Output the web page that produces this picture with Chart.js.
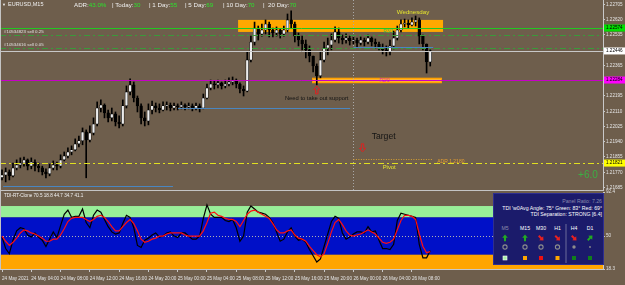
<!DOCTYPE html>
<html>
<head>
<meta charset="utf-8">
<script src="https://cdn.jsdelivr.net/npm/chart.js@4.4.1/dist/chart.umd.min.js"></script>
<style>
html, body { margin: 0; padding: 0; background: #6e5e4c; overflow: hidden; }
body { width: 625px; height: 285px; position: relative; font-family: "Liberation Sans", Arial, sans-serif; }
canvas { position: absolute; left: 0; }
#main { top: 0; }
#tdi { top: 186px; }
.txt { position: absolute; white-space: pre; color: #f0f0f0; line-height: 1; }
.g { color: #2ee02e; }
.line { position: absolute; background: #c4c4c4; }
#panel { position: absolute; left: 493px; top: 193px; }
</style>
</head>
<body>
<canvas id="main" width="625" height="190"></canvas>
<canvas id="tdi" width="625" height="99"></canvas>

<div class="line" style="left:0;top:0;width:1px;height:269px"></div>
<div class="line" style="left:0;top:190px;width:604px;height:1px"></div>

<div class="txt" style="left:2px;top:3px;font-size:4px">▼</div>
<div class="txt" style="left:8px;top:2px;font-size:5.5px">EURUSD,M15</div>
<div class="txt" style="left:74px;top:2px;font-size:6.2px">ADR:<span class="g">43.0%</span></div>
<div class="txt" style="left:112px;top:2px;font-size:6.2px">| Today:<span class="g">30</span></div>
<div class="txt" style="left:149px;top:2px;font-size:6.2px">| 1 Day:<span class="g">55</span></div>
<div class="txt" style="left:185px;top:2px;font-size:6.2px">| 5 Day:<span class="g">69</span></div>
<div class="txt" style="left:223px;top:2px;font-size:6.2px">| 10 Day:<span class="g">70</span></div>
<div class="txt" style="left:263px;top:2px;font-size:6.2px">|  20 Day:<span class="g">70</span></div>
<div class="txt" style="left:4px;top:194px;font-size:4.6px">TDI-RT-Clone 70.5 18.8 44.7 34.7 41.1</div>

<svg id="panel" width="111" height="72" font-family="Liberation Sans, Arial, sans-serif" font-size="5.2">
  <rect x="0.5" y="0.5" width="110" height="71" fill="#1b1b6b" stroke="#2e2e90"/>
  <text x="109" y="10" text-anchor="end" fill="#8a8aaa">Panel Ratio: 7.26</text>
  <text x="109" y="16.5" text-anchor="end" fill="#ffffff">TDI 'w0Avg Angle: 75°  Green: 83°  Red: 69°</text>
  <text x="109" y="23" text-anchor="end" fill="#ffffff">TDI Separation: STRONG [6.4]</text>
  <text x="12" y="37" text-anchor="middle" fill="#8a8aaa">M5</text>
  <text x="32" y="37" text-anchor="middle" fill="#ffffff">M15</text>
  <text x="48" y="37" text-anchor="middle" fill="#ffffff">M30</text>
  <text x="64.5" y="37" text-anchor="middle" fill="#ffffff">H1</text>
  <text x="81" y="37" text-anchor="middle" fill="#ffffff">H4</text>
  <text x="97" y="37" text-anchor="middle" fill="#ffffff">D1</text>
  <line x1="73" y1="31" x2="73" y2="70" stroke="#8080a8" stroke-width="0.8"/>
  <g transform="translate(12,45)"><polygon points="0,-3.5 -2.8,-0.3 -1,-0.3 -1,3.2 1,3.2 1,-0.3 2.8,-0.3" fill="#22aa22"/></g>
  <g transform="translate(32,45)"><polygon points="0,-3.5 -2.8,-0.3 -1,-0.3 -1,3.2 1,3.2 1,-0.3 2.8,-0.3" fill="#22aa22"/></g>
  <g transform="translate(48,45) rotate(135)"><polygon points="0,-3.5 -2.8,-0.3 -1,-0.3 -1,3.2 1,3.2 1,-0.3 2.8,-0.3" fill="#e82020"/></g>
  <g transform="translate(64.5,45) rotate(135)"><polygon points="0,-3.5 -2.8,-0.3 -1,-0.3 -1,3.2 1,3.2 1,-0.3 2.8,-0.3" fill="#e82020"/></g>
  <g transform="translate(81,45) rotate(135)"><polygon points="0,-3.5 -2.8,-0.3 -1,-0.3 -1,3.2 1,3.2 1,-0.3 2.8,-0.3" fill="#e82020"/></g>
  <g transform="translate(97,45) rotate(45)"><polygon points="0,-3.5 -2.8,-0.3 -1,-0.3 -1,3.2 1,3.2 1,-0.3 2.8,-0.3" fill="#22aa22"/></g>
  <circle cx="12" cy="54" r="2.1" fill="none" stroke="#8c8c8c" stroke-width="1.1"/>
  <circle cx="32" cy="54" r="2.1" fill="none" stroke="#8c8c8c" stroke-width="1.1"/>
  <circle cx="48" cy="54" r="2.1" fill="none" stroke="#8c8c8c" stroke-width="1.1"/>
  <circle cx="64.5" cy="54" r="2.1" fill="none" stroke="#8c8c8c" stroke-width="1.1"/>
  <circle cx="81" cy="54" r="1.7" fill="#8c8c8c"/>
  <circle cx="97" cy="54" r="0.9" fill="#8c8c8c"/>
  <rect x="10" y="63" width="4" height="4" fill="#a8f0a8" stroke="#ffffff" stroke-width="0.6"/>
  <rect x="30" y="63" width="4" height="4" fill="#ffa500"/>
  <rect x="46" y="63" width="4" height="4" fill="#ee1010"/>
  <rect x="62.5" y="63" width="4" height="4" fill="#ffa500"/>
  <rect x="79" y="63" width="4" height="4" fill="#10801a"/>
  <rect x="95" y="63" width="4" height="4" fill="#10801a"/>
</svg>

<script>
// EURUSD M15 chart, resampled to 30 min bars (bar index 0 = 24 May 00:00)
const firstOpen = 1.21740;
const closes = [
    1.21755,1.21772,1.21750,1.21794,1.21810,1.21821,1.21839,1.21804,1.21827,1.21804,
    1.21794,1.21772,1.21761,1.21794,1.21810,1.21804,1.21839,1.21861,1.21883,1.21895,
    1.21928,1.21945,1.21995,1.21950,1.21989,1.22039,1.22128,1.22145,1.22101,1.22073,
    1.22095,1.22050,1.22039,1.22140,1.22218,1.22257,1.22184,1.22140,1.22073,1.22056,
    1.22117,1.22140,1.22128,1.22117,1.22140,1.22145,1.22128,1.22140,1.22134,1.22145,
    1.22134,1.22140,1.22128,1.22140,1.22128,1.22184,1.22240,1.22262,1.22257,1.22268,
    1.22251,1.22262,1.22273,1.22284,1.22262,1.22234,1.22223,1.22396,1.22496,1.22574,
    1.22541,1.22563,1.22596,1.22563,1.22546,1.22563,1.22541,1.22563,1.22619,1.22596,
    1.22529,1.22507,1.22485,1.22452,1.22418,1.22362,1.22307,1.22396,1.22463,1.22479,
    1.22507,1.22552,1.22518,1.22507,1.22518,1.22502,1.22507,1.22490,1.22507,1.22496,
    1.22518,1.22496,1.22485,1.22468,1.22452,1.22440,1.22474,1.22518,1.22563,1.22596,
    1.22602,1.22591,1.22607,1.22619,1.22529,1.22485,1.22385,1.22446
];
const highs = [
    1.21783,1.21794,1.21783,1.21821,1.21839,1.21850,1.21855,1.21844,1.21850,1.21839,
    1.21821,1.21804,1.21789,1.21815,1.21833,1.21827,1.21867,1.21883,1.21906,1.21917,
    1.21956,1.21972,1.22017,1.22006,1.22028,1.22073,1.22162,1.22173,1.22151,1.22117,
    1.22128,1.22106,1.22084,1.22173,1.22251,1.22290,1.22273,1.22195,1.22151,1.22106,
    1.22151,1.22167,1.22156,1.22151,1.22162,1.22162,1.22156,1.22156,1.22151,1.22162,
    1.22151,1.22156,1.22151,1.22156,1.22151,1.22206,1.22262,1.22284,1.22279,1.22284,
    1.22273,1.22284,1.22296,1.22301,1.22290,1.22268,1.22251,1.22440,1.22529,1.22607,
    1.22585,1.22596,1.22619,1.22607,1.22574,1.22580,1.22568,1.22585,1.22652,1.22669,
    1.22607,1.22546,1.22529,1.22507,1.22474,1.22418,1.22374,1.22440,1.22496,1.22518,
    1.22541,1.22580,1.22574,1.22535,1.22541,1.22529,1.22524,1.22518,1.22524,1.22518,
    1.22535,1.22524,1.22513,1.22496,1.22485,1.22474,1.22507,1.22557,1.22585,1.22619,
    1.22624,1.22619,1.22630,1.22641,1.22630,1.22535,1.22485,1.22452
];
const lows = [
    1.21727,1.21716,1.21727,1.21744,1.21783,1.21794,1.21804,1.21783,1.21789,1.21777,
    1.21772,1.21755,1.21739,1.21750,1.21783,1.21783,1.21794,1.21833,1.21850,1.21867,
    1.21889,1.21911,1.21923,1.21739,1.21939,1.21978,1.22028,1.22106,1.22073,1.22050,
    1.22056,1.22028,1.22017,1.22028,1.22128,1.22201,1.22162,1.22106,1.22039,1.22028,
    1.22034,1.22095,1.22106,1.22101,1.22112,1.22117,1.22112,1.22117,1.22117,1.22123,
    1.22117,1.22123,1.22112,1.22117,1.22106,1.22123,1.22179,1.22229,1.22234,1.22240,
    1.22234,1.22240,1.22251,1.22257,1.22240,1.22212,1.22195,1.22218,1.22385,1.22479,
    1.22507,1.22529,1.22541,1.22524,1.22524,1.22529,1.22518,1.22529,1.22552,1.22574,
    1.22496,1.22474,1.22452,1.22407,1.22385,1.22329,1.22257,1.22296,1.22385,1.22424,
    1.22452,1.22496,1.22490,1.22485,1.22490,1.22479,1.22485,1.22468,1.22479,1.22474,
    1.22485,1.22474,1.22463,1.22452,1.22429,1.22418,1.22424,1.22457,1.22507,1.22552,
    1.22580,1.22574,1.22585,1.22585,1.22485,1.22452,1.22323,1.22362
];

// TDI sub window
const tdiPrice = [
    49,38,33,46,55,58,57,51,49,53, 49,46,40,47,54,48.5,60,71,75,68,
    69,69,76,63,58,70,75,73,66,59, 54,52,53,62,70,68,58,41,39,46,
    48,51,53,49,50,53,54,50,48.5,53, 53,50,47,47,50,67,80,71,68,68,
    68,65,64,66,58,45,50,73,79,76, 73,72,71,68,63,54,45,47,54,58,
    50,46,47,44,37,31,25,28,40,52, 64,69,67,53,47,49,52,54,54,53,
    59,54,55,46,38,38,37,42,65,72, 71,70,69,68,42,29,29,36
];
const tdiSignal = [
    50,45,41,44,48,53,56,55,53,52, 50,48,45,45,47,47,51,57,64,67,
    68,68,68,66,64,66,69,70,68,64, 59,55,55,59,63,66,62,55,47,44,
    45,47,48,50,50,52,53,53,53,53, 51,50,50,50,50,55,63,72,73,70,
    69,67,66,66,64,59,65,71,74,75, 73,71,69,67,62,56,53,53,55,56,
    51,48,47,45,40,36,32,30,33,43, 54,63,66,61,55,51,50,51,52,54,
    56,54,52,48,44,43,44,47,56,65, 70,70,69,66,52,40,34,35
];
const tdiBands = [78.9, 68, 32, 18.3];   // green top, green/blue, blue/orange, bottom
const tdiTicks = [18.3, 50, 92.4];

// axis ticks
const priceTicks = [1.22705,1.22620,1.22535,1.22450,1.22365,1.22280,1.22195,1.22110,1.22025,1.21940,1.21855,1.21770,1.21685];
const timeLabels = ['24 May 2021','24 May 04:00','24 May 08:00','24 May 12:00','24 May 16:00','24 May 20:00',
    '25 May 00:00','25 May 04:00','25 May 08:00','25 May 12:00','25 May 16:00','25 May 20:00',
    '26 May 00:00','26 May 04:00','26 May 08:00'];
const barsPerLabel = 8;

// chart objects (prices, bar indexes)
const fullLines = [1.22574, 1.22535, 1.22463, 1.22446, 1.22284, 1.21821];
const tagPrices = [1.22574, 1.22446, 1.22284, 1.21821];
const blueSegments = [[1.22468, 96, 117.8], [1.22128, 48.1, 95.1], [1.21696, 0.3, 46.7]];
const adrSegment = [1.21844, 96, 117.8];
const zoneBox = [64.5, 120.5, 1.22619, 1.22552];
const supportBox = [84.7, 120.2, 1.22297, 1.22266];
const separatorBar = 96;

const FONT = '"Liberation Sans", Arial, sans-serif';
const AXIS = '#c8c8c8';
const XMIN = -0.55, XMAX = 164.2;

function hline(ctx, area, y, color, dash, x0, x1) {
    ctx.save();
    ctx.strokeStyle = color;
    ctx.lineWidth = 1;
    ctx.setLineDash(dash || []);
    ctx.beginPath();
    ctx.moveTo(x0 !== undefined ? x0 : area.left, Math.round(y) + 0.5);
    ctx.lineTo(x1 !== undefined ? x1 : area.right, Math.round(y) + 0.5);
    ctx.stroke();
    ctx.restore();
}

function hollowArrow(ctx, x, y, dir) {
    // dir 1 = up, -1 = down
    const pts = [[0,-4],[3,-0.5],[1.2,-0.5],[1.2,4],[-1.2,4],[-1.2,-0.5],[-3,-0.5]];
    ctx.save();
    ctx.strokeStyle = '#e02020';
    ctx.lineWidth = 1;
    ctx.beginPath();
    pts.forEach((p, k) => {
        const px = x + p[0], py = y + p[1] * dir;
        k ? ctx.lineTo(px, py) : ctx.moveTo(px, py);
    });
    ctx.closePath();
    ctx.stroke();
    ctx.restore();
}

const mainOverlay = {
    id: 'mainOverlay',
    beforeDatasetsDraw(chart) {
        const { ctx, chartArea: a, scales: { x, y } } = chart;
        // zones behind the candles
        ctx.fillStyle = '#ffa800';
        ctx.fillRect(x.getPixelForValue(zoneBox[0]), y.getPixelForValue(zoneBox[2]),
            x.getPixelForValue(zoneBox[1]) - x.getPixelForValue(zoneBox[0]),
            y.getPixelForValue(zoneBox[3]) - y.getPixelForValue(zoneBox[2]));
        const sx0 = x.getPixelForValue(supportBox[0]), sx1 = x.getPixelForValue(supportBox[1]);
        const sy0 = y.getPixelForValue(supportBox[2]), sy1 = y.getPixelForValue(supportBox[3]);
        ctx.fillStyle = '#ffa000';
        ctx.fillRect(sx0, sy0, sx1 - sx0, sy1 - sy0);
        ctx.fillStyle = '#ffc860';
        ctx.fillRect(sx0 + 1, sy0 + 1.8, sx1 - sx0 - 2, sy1 - sy0 - 3.6);

        // day separator
        const sx = Math.round(x.getPixelForValue(separatorBar)) + 0.5;
        ctx.save();
        ctx.strokeStyle = '#a8a8a8';
        ctx.setLineDash([1, 2]);
        ctx.beginPath();
        ctx.moveTo(sx, a.top);
        ctx.lineTo(sx, a.bottom);
        ctx.stroke();
        ctx.restore();
    },
    afterDatasetsDraw(chart) {
        const { ctx, chartArea: a, scales: { x, y } } = chart;
        const styles = [
            ['#22c822', null], ['#3a9a3a', [6, 3, 2, 3]], ['#3a9a3a', [6, 3, 2, 3]],
            ['#c8c8c8', null], ['#c800c8', null], ['#e0e020', [6, 3, 2, 3]]
        ];
        fullLines.forEach((p, k) => hline(ctx, a, y.getPixelForValue(p), styles[k][0], styles[k][1]));
        blueSegments.forEach(s => hline(ctx, a, y.getPixelForValue(s[0]), '#4a86c0', null,
            x.getPixelForValue(s[1]), x.getPixelForValue(s[2])));
        hline(ctx, a, y.getPixelForValue(adrSegment[0]), '#d8a030', [1, 1.5],
            x.getPixelForValue(adrSegment[1]), x.getPixelForValue(adrSegment[2]));

        const notes = [
            ['Wednesday', 112.3, 1.22659, '#e6e62e', 6.2, 'center'],
            ['R3/1', 105.6, 1.22556, '#3fc03f', 4.8, 'center'],
            ['R2/0', 104.5, 1.22279, '#d020d0', 4.8, 'center'],
            ['#10534823 sell 0.25', 0.55, 1.22554, '#e0e0e0', 4.4, 'left'],
            ['#10534616 sell 0.05', 0.55, 1.22480, '#e0e0e0', 4.4, 'left'],
            ['Need to take out support', 77.3, 1.22179, '#141414', 5.8, 'left'],
            ['Target', 101, 1.21967, '#141414', 8.6, 'left'],
            ['ADR 1.2180', 118.9, 1.21827, '#e8a030', 5, 'left'],
            ['Pivot', 104, 1.21798, '#e6e62e', 5.9, 'left'],
            ['+6.0', 157.4, 1.21755, '#3cb043', 10, 'left']
        ];
        ctx.save();
        ctx.textBaseline = 'middle';
        notes.forEach(n => {
            ctx.font = n[4] + 'px ' + FONT;
            ctx.fillStyle = n[3];
            ctx.textAlign = n[5];
            ctx.fillText(n[0], x.getPixelForValue(n[1]), y.getPixelForValue(n[2]));
        });
        ctx.restore();
        hollowArrow(ctx, x.getPixelForValue(86), y.getPixelForValue(1.22229), 1);
        hollowArrow(ctx, x.getPixelForValue(98.5), y.getPixelForValue(1.21906), -1);
    },
    afterDraw(chart) {
        const { ctx, chartArea: a, scales: { y } } = chart;
        const colors = ['#00e000', '#ffffff', '#ff00ff', '#ffff00'];
        ctx.save();
        ctx.font = '4.6px ' + FONT;
        ctx.textBaseline = 'middle';
        ctx.textAlign = 'left';
        tagPrices.forEach((p, k) => {
            const py = y.getPixelForValue(p);
            ctx.fillStyle = colors[k];
            ctx.fillRect(a.right + 1, py - 3.5, chart.width - a.right - 1, 7);
            ctx.fillStyle = '#000';
            ctx.fillText(p.toFixed(5), a.right + 3, py);
        });
        ctx.restore();
    }
};

const tdiBackground = {
    id: 'tdiBackground',
    beforeDatasetsDraw(chart) {
        const { ctx, chartArea: a, scales: { y } } = chart;
        const fills = ['#98ee98', '#0010c8', '#ffa500'];
        for (let k = 0; k < 3; k++) {
            const y0 = y.getPixelForValue(tdiBands[k]), y1 = y.getPixelForValue(tdiBands[k + 1]);
            ctx.fillStyle = fills[k];
            ctx.fillRect(a.left, y0, a.right - a.left, y1 - y0);
        }
        hline(ctx, a, y.getPixelForValue(50), '#b0b0b0', [1, 2]);
    }
};

const bodies = closes.map((c, i) => ({ x: i, y: [i ? closes[i - 1] : firstOpen, c] }));
const wicks = highs.map((h, i) => ({ x: i, y: [lows[i], h] }));

new Chart(document.getElementById('main'), {
    type: 'bar',
    data: {
        datasets: [{
            data: wicks,
            backgroundColor: '#000',
            barThickness: 1,
            grouped: false,
            order: 2
        }, {
            data: bodies,
            backgroundColor: bodies.map(b => b.y[1] >= b.y[0] ? '#ececec' : '#000'),
            borderColor: '#000',
            borderWidth: 0.6,
            borderSkipped: false,
            barThickness: 2.8,
            minBarLength: 1,
            grouped: false,
            order: 1
        }]
    },
    options: {
        responsive: false,
        animation: false,
        events: [],
        layout: { padding: 0 },
        plugins: { legend: { display: false }, tooltip: { enabled: false } },
        scales: {
            x: { type: 'linear', display: false, offset: false, min: XMIN, max: XMAX },
            y: {
                position: 'right',
                min: 1.21671,
                max: 1.22730,
                afterBuildTicks: s => { s.ticks = priceTicks.map(v => ({ value: v })); },
                afterFit: s => { s.width = 22; s.paddingTop = 0; s.paddingBottom = 0; },
                ticks: {
                    color: '#e4e4e4',
                    font: { size: 4.6, family: FONT },
                    padding: 1,
                    autoSkip: false,
                    callback: v => v.toFixed(5)
                },
                grid: { drawOnChartArea: false, tickLength: 2, color: AXIS },
                border: { color: AXIS }
            }
        }
    },
    plugins: [mainOverlay]
});

new Chart(document.getElementById('tdi'), {
    type: 'line',
    data: {
        datasets: [{
            data: tdiPrice.map((v, i) => ({ x: i, y: v })),
            borderColor: '#000',
            borderWidth: 1.2,
            pointRadius: 0,
            order: 2
        }, {
            data: tdiSignal.map((v, i) => ({ x: i, y: v })),
            borderColor: '#ff1010',
            borderWidth: 1.2,
            pointRadius: 0,
            order: 1
        }]
    },
    options: {
        responsive: false,
        animation: false,
        events: [],
        layout: { padding: { top: 6, left: 0, right: 0, bottom: 0 } },
        plugins: { legend: { display: false }, tooltip: { enabled: false } },
        scales: {
            x: {
                type: 'linear',
                offset: false,
                min: XMIN,
                max: XMAX,
                afterBuildTicks: s => { s.ticks = timeLabels.map((t, k) => ({ value: k * barsPerLabel })); },
                afterFit: s => { s.height = 16; s.paddingLeft = 0; s.paddingRight = 0; },
                ticks: {
                    align: 'start',
                    color: '#e4e4e4',
                    font: { size: 4.6, family: FONT },
                    padding: 4,
                    maxRotation: 0,
                    autoSkip: false,
                    callback: (v, i) => timeLabels[i]
                },
                grid: { drawOnChartArea: false, tickLength: 3, color: AXIS },
                border: { color: AXIS }
            },
            y: {
                position: 'right',
                min: 18.3,
                max: 92.4,
                afterBuildTicks: s => { s.ticks = tdiTicks.map(v => ({ value: v })); },
                afterFit: s => { s.width = 22; s.paddingTop = 0; s.paddingBottom = 0; },
                ticks: {
                    color: '#e4e4e4',
                    font: { size: 4.6, family: FONT },
                    padding: 1,
                    autoSkip: false,
                    callback: v => v === 50 ? '50' : v.toFixed(1)
                },
                grid: { drawOnChartArea: false, tickLength: 2, color: AXIS },
                border: { color: AXIS }
            }
        }
    },
    plugins: [tdiBackground]
});
</script>
</body>
</html>
